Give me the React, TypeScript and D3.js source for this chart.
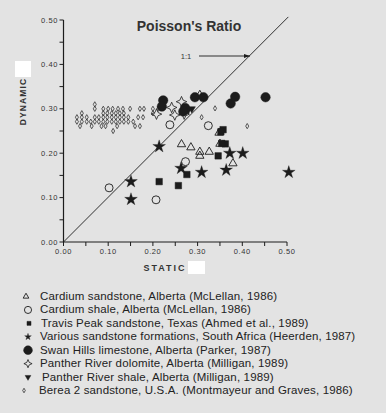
import React from "react";
import * as d3 from "d3";

type P = [number, number];

const xTicks = [0, 0.1, 0.2, 0.3, 0.4, 0.5];
const yTicks = [0, 0.1, 0.2, 0.3, 0.4, 0.5];
const minorTicks = [0, 0.05, 0.1, 0.15, 0.2, 0.25, 0.3, 0.35, 0.4, 0.45, 0.5];

const cardiumSandstone: P[] = [
  [0.305, 0.331], [0.264, 0.22], [0.285, 0.213], [0.305, 0.203], [0.305, 0.194],
  [0.326, 0.203], [0.348, 0.246], [0.35, 0.221], [0.379, 0.177],
];
const cardiumShale: P[] = [
  [0.238, 0.264], [0.324, 0.262], [0.102, 0.122], [0.207, 0.095], [0.273, 0.181],
];
const travisPeak: P[] = [
  [0.214, 0.136], [0.257, 0.127], [0.276, 0.152], [0.346, 0.194], [0.357, 0.253],
  [0.352, 0.248], [0.362, 0.221], [0.354, 0.222],
];
const southAfrica: P[] = [
  [0.214, 0.215], [0.151, 0.136], [0.151, 0.096], [0.263, 0.166], [0.309, 0.157],
  [0.364, 0.162], [0.372, 0.2], [0.401, 0.2], [0.504, 0.157],
];
const swanHills: P[] = [
  [0.223, 0.319], [0.22, 0.305], [0.294, 0.326], [0.313, 0.326], [0.272, 0.302],
  [0.268, 0.294], [0.374, 0.312], [0.384, 0.327], [0.452, 0.326],
];
const pantherDolomite: P[] = [
  [0.242, 0.303], [0.264, 0.316], [0.249, 0.286], [0.27, 0.288], [0.208, 0.288],
];
const pantherShale: P[] = [[0.287, 0.3], [0.279, 0.297]];
const berea: P[] = [
  [0.07, 0.31],
  [0.07, 0.3], [0.089, 0.3], [0.1, 0.3], [0.11, 0.3], [0.122, 0.3], [0.133, 0.3],
  [0.149, 0.3], [0.171, 0.3], [0.18, 0.3], [0.2, 0.3], [0.212, 0.3],
  [0.041, 0.29], [0.089, 0.29], [0.098, 0.29], [0.108, 0.29], [0.117, 0.29],
  [0.126, 0.29], [0.135, 0.29], [0.2, 0.29],
  [0.03, 0.281], [0.041, 0.281], [0.052, 0.281], [0.07, 0.281], [0.079, 0.281],
  [0.089, 0.281], [0.098, 0.281], [0.108, 0.281], [0.117, 0.281], [0.126, 0.281],
  [0.135, 0.281], [0.145, 0.281], [0.167, 0.281], [0.178, 0.281],
  [0.03, 0.271], [0.041, 0.271], [0.052, 0.271], [0.061, 0.271], [0.07, 0.271],
  [0.079, 0.271], [0.089, 0.271], [0.098, 0.271], [0.108, 0.271], [0.117, 0.271],
  [0.126, 0.271], [0.135, 0.271], [0.145, 0.271], [0.156, 0.271],
  [0.037, 0.261], [0.063, 0.261], [0.085, 0.261], [0.094, 0.261], [0.12, 0.261],
  [0.16, 0.261], [0.171, 0.261],
  [0.111, 0.25],
  [0.309, 0.281], [0.339, 0.301], [0.411, 0.261],
];

const legendLabels = [
  "Cardium sandstone, Alberta (McLellan, 1986)",
  "Cardium shale, Alberta (McLellan, 1986)",
  "Travis Peak sandstone, Texas (Ahmed et al., 1989)",
  "Various sandstone formations, South Africa (Heerden, 1987)",
  "Swan Hills limestone, Alberta (Parker, 1987)",
  "Panther River dolomite, Alberta (Milligan, 1989)",
  "Panther River shale, Alberta (Milligan, 1989)",
  "Berea 2 sandstone, U.S.A. (Montmayeur and Graves, 1986)",
];

const INK = "#1c1c1c";

const fourStar: d3.SymbolType = {
  draw(ctx, size) {
    const r = Math.sqrt(size) * 0.75;
    const k = r * 0.3;
    ctx.moveTo(0, -r);
    ctx.lineTo(k, -k);
    ctx.lineTo(r, 0);
    ctx.lineTo(k, k);
    ctx.lineTo(0, r);
    ctx.lineTo(-k, k);
    ctx.lineTo(-r, 0);
    ctx.lineTo(-k, -k);
    ctx.closePath();
  },
};

type Style = { type: d3.SymbolType; size: number; fill: string; stroke: string; sw: number; rot?: number; legendSize: number };

const styles: Style[] = [
  { type: d3.symbolTriangle, size: 30, fill: "none", stroke: INK, sw: 0.9, legendSize: 14 },
  { type: d3.symbolCircle, size: 50, fill: "none", stroke: INK, sw: 0.9, legendSize: 40 },
  { type: d3.symbolSquare, size: 42, fill: INK, stroke: INK, sw: 0.5, legendSize: 16 },
  { type: d3.symbolStar, size: 50, fill: INK, stroke: INK, sw: 0.3, legendSize: 14 },
  { type: d3.symbolCircle, size: 70, fill: INK, stroke: INK, sw: 0.5, legendSize: 60 },
  { type: fourStar, size: 50, fill: "none", stroke: INK, sw: 0.8, legendSize: 30 },
  { type: d3.symbolTriangle, size: 22, fill: INK, stroke: INK, sw: 0.5, rot: 180, legendSize: 14 },
  { type: d3.symbolDiamond, size: 8, fill: "none", stroke: "#333", sw: 0.8, legendSize: 6 },
];

const seriesData: P[][] = [
  cardiumSandstone, cardiumShale, travisPeak, southAfrica,
  swanHills, pantherDolomite, pantherShale, berea,
];

export default function App() {
  const W = 386, H = 413;
  const x = d3.scaleLinear().domain([0, 0.5]).range([63.5, 287]);
  const y = d3.scaleLinear().domain([0, 0.5]).range([242, 20]);
  const fmt = d3.format(".2f");
  const drawOrder = [7, 5, 6, 0, 1, 2, 3, 4];
  const legendX = [26, 28, 29, 28, 28, 28, 28, 24];
  const textX = [40, 40, 41, 40, 40, 40, 42, 39];
  const legendY0 = 300, legendStep = 13.43;

  return (
    <svg width={W} height={H} style={{ position: "fixed", left: 0, top: 0 }}
      fontFamily="'Liberation Sans', Arial, sans-serif">
      <defs>
        <marker id="arr" viewBox="0 0 10 10" refX="10" refY="5" markerWidth="7" markerHeight="7" orient="auto">
          <path d="M0,1.5 L10,5 L0,8.5 Z" fill={INK} />
        </marker>
      </defs>
      <rect width={W} height={H} fill="#e3e3e3" />
      <text x={189} y={31} textAnchor="middle" fontSize={14} fontWeight="bold" fill="#333">Poisson's Ratio</text>

      {/* axes */}
      <line x1={x(0)} x2={x(0)} y1={y(0)} y2={y(0.5)} stroke={INK} strokeWidth={1.2} />
      <line x1={x(0)} x2={x(0.5)} y1={y(0)} y2={y(0)} stroke={INK} strokeWidth={1.2} />
      {minorTicks.map((t) => (
        <g key={"t" + t}>
          <line x1={x(t)} x2={x(t)} y1={y(0)} y2={y(0) + 4} stroke={INK} strokeWidth={1} />
          <line x1={x(0)} x2={x(0) - 4} y1={y(t)} y2={y(t)} stroke={INK} strokeWidth={1} />
        </g>
      ))}
      {xTicks.map((t) => (
        <text key={"xl" + t} x={x(t)} y={254} textAnchor="middle" fontSize={7.5} fill="#333" letterSpacing={0.6}>{fmt(t)}</text>
      ))}
      {yTicks.map((t) => (
        <text key={"yl" + t} x={58} y={y(t) + 2.6} textAnchor="end" fontSize={7.5} fill="#333" letterSpacing={0.6}>{fmt(t)}</text>
      ))}

      {/* 1:1 line */}
      <line x1={x(0)} y1={y(0)} x2={x(0.503)} y2={y(0.507)} stroke={INK} strokeWidth={0.9} />
      <text x={186} y={59} textAnchor="middle" fontSize={7.5} fill="#333">1:1</text>
      <line x1={199} y1={56} x2={250} y2={56} stroke={INK} strokeWidth={0.9} markerEnd="url(#arr)" />

      {/* axis titles */}
      <rect x={15} y={61} width={16} height={16} fill="#fff" />
      <text transform="translate(25.5,101.5) rotate(-90)" textAnchor="middle" fontSize={8.5} fontWeight="bold" letterSpacing={1.1} fill="#333">DYNAMIC</text>
      <text x={165} y={271} textAnchor="middle" fontSize={9} fontWeight="bold" letterSpacing={2} fill="#333">STATIC</text>
      <rect x={188} y={261} width={17} height={13} fill="#fff" />

      {/* points */}
      {drawOrder.map((si) => {
        const s = styles[si];
        const path = d3.symbol().type(s.type).size(s.size)() as string;
        return (
          <g key={"s" + si}>
            {seriesData[si].map((d, i) => (
              <path key={i} d={path}
                transform={`translate(${x(d[0])},${y(d[1])})${s.rot ? ` rotate(${s.rot})` : ""}`}
                fill={s.fill} stroke={s.stroke} strokeWidth={s.sw} />
            ))}
          </g>
        );
      })}

      {/* legend */}
      {legendLabels.map((lab, i) => {
        const s = styles[i];
        const path = d3.symbol().type(s.type).size(s.legendSize)() as string;
        const cy = legendY0 + i * legendStep;
        return (
          <g key={"lg" + i}>
            <path d={path} transform={`translate(${legendX[i]},${cy - 3.5})${s.rot ? ` rotate(${s.rot})` : ""}`}
              fill={s.fill} stroke={s.stroke} strokeWidth={s.sw} />
            <text x={textX[i]} y={cy} fontSize={11.5} letterSpacing={0.15} fill="#222">{lab}</text>
          </g>
        );
      })}
    </svg>
  );
}
